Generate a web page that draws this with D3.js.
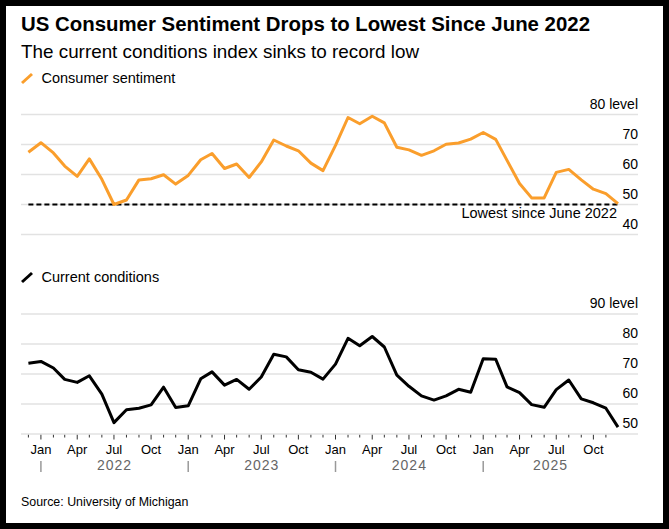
<!DOCTYPE html>
<html>
<head>
<meta charset="utf-8">
<script src="https://cdn.jsdelivr.net/npm/d3@7"></script>
<style>
  html, body { margin: 0; padding: 0; background: #000; }
  svg { display: block; font-family: "Liberation Sans", Arial, Helvetica, sans-serif; }
</style>
</head>
<body>
<svg id="chart" width="669" height="529"></svg>
<script>
// ---- Data (monthly, Nov 2021 .. Nov 2025) ----
const firstMonth = "2021-11";
const sentiment = [
  67.4, 70.6,
  67.2, 62.8, 59.4, 65.2, 58.4, 50.0, 51.5, 58.2, 58.6, 59.9, 56.8, 59.7,
  64.9, 67.0, 62.0, 63.5, 59.0, 64.2, 71.5, 69.5, 67.9, 63.8, 61.3, 69.7,
  79.0, 76.9, 79.4, 77.2, 69.1, 68.2, 66.4, 67.9, 70.1, 70.5, 71.8, 74.0,
  71.7, 64.7, 57.0, 52.2, 52.2, 60.7, 61.7, 58.2, 55.1, 53.6, 50.3
];
const currentConditions = [
  73.6, 74.2,
  72.0, 68.2, 67.2, 69.4, 63.3, 53.8, 58.1, 58.6, 59.7, 65.6, 58.8, 59.4,
  68.4, 70.7, 66.3, 68.2, 64.9, 69.0, 76.6, 75.7, 71.4, 70.6, 68.3, 73.3,
  81.9, 79.4, 82.5, 79.0, 69.6, 65.9, 62.7, 61.3, 62.7, 64.9, 63.9, 75.1,
  74.9, 65.7, 63.8, 59.8, 58.9, 64.8, 68.0, 61.7, 60.4, 58.6, 52.3
];
const sentimentTicks = [40, 50, 60, 70, 80];
const conditionsTicks = [50, 60, 70, 80, 90];
const lowestLevel = 50.0;
const monthLabels = { 0: "Jan", 3: "Apr", 6: "Jul", 9: "Oct" };
const years = [2022, 2023, 2024, 2025];
const titleText = "US Consumer Sentiment Drops to Lowest Since June 2022";
const subtitleText = "The current conditions index sinks to record low";
const sourceText = "Source: University of Michigan";
const annotationText = "Lowest since June 2022";

(function () {
// ---- Setup ----
const svg = d3.select("#chart");
svg.append("rect").attr("x", 6).attr("y", 6).attr("width", 657).attr("height", 517).attr("fill", "#fff");

const ORANGE = "#FA9E2C";
const GRID = "#e2e2e2";
const parse = d3.timeParse("%Y-%m");
const start = parse(firstMonth);
// monthly values are plotted at the end of the month (= start of next month)
const dates = sentiment.map((_, i) => d3.timeMonth.offset(start, i + 1));
const x0 = dates[0], x1 = dates[dates.length - 1];
const x = d3.scaleTime().domain([x0, x1]).range([28.4, 618]);
const gridL = 21, gridR = 638;

svg.append("text").attr("x", 21).attr("y", 31).attr("font-size", 19.5).attr("font-weight", "bold")
  .attr("textLength", 569).attr("lengthAdjust", "spacingAndGlyphs").attr("fill", "#000").text(titleText);
svg.append("text").attr("x", 21).attr("y", 58).attr("font-size", 18.5)
  .attr("textLength", 398).attr("lengthAdjust", "spacingAndGlyphs").attr("fill", "#000").text(subtitleText);

function panel(opts) {
  const { ticks, topY, bottomY, color, legend, legendY, unitLabel } = opts;
  const y = d3.scaleLinear().domain([ticks[0], ticks[ticks.length - 1]]).range([bottomY, topY]);
  const g = svg.append("g");
  g.append("line").attr("x1", 22).attr("y1", legendY + 1).attr("x2", 32).attr("y2", legendY - 8)
    .attr("stroke", color).attr("stroke-width", 3).attr("stroke-linecap", "butt");
  g.append("text").attr("x", 41.5).attr("y", legendY + 1).attr("font-size", 14.5).attr("fill", "#000").text(legend);
  g.selectAll("line.grid").data(ticks).join("line").attr("class", "grid")
    .attr("x1", gridL).attr("x2", gridR).attr("y1", d => y(d)).attr("y2", d => y(d))
    .attr("stroke", GRID).attr("stroke-width", 1.6);
  g.selectAll("text.ylab").data(ticks).join("text").attr("class", "ylab")
    .attr("x", gridR).attr("y", d => y(d) - 6).attr("text-anchor", "end")
    .attr("font-size", 14).attr("fill", "#000")
    .text((d, i) => i === ticks.length - 1 ? d + " " + unitLabel : d);
  return { g, y };
}

// ---- Top panel: consumer sentiment ----
const p1 = panel({ ticks: sentimentTicks, topY: 114.5, bottomY: 234.5, color: ORANGE,
  legend: "Consumer sentiment", legendY: 82, unitLabel: "level" });
p1.g.append("line").attr("x1", x(x0)).attr("x2", x(x1))
  .attr("y1", p1.y(lowestLevel)).attr("y2", p1.y(lowestLevel))
  .attr("stroke", "#000").attr("stroke-width", 2).attr("stroke-dasharray", "5,3");
p1.g.append("text").attr("x", 617).attr("y", 218).attr("text-anchor", "end")
  .attr("font-size", 14.5).attr("fill", "#000").text(annotationText);
p1.g.append("path").datum(sentiment)
  .attr("d", d3.line().x((d, i) => x(dates[i])).y(d => p1.y(d)))
  .attr("fill", "none").attr("stroke", ORANGE).attr("stroke-width", 3).attr("stroke-linejoin", "round");

// ---- Bottom panel: current conditions ----
const p2 = panel({ ticks: conditionsTicks, topY: 314, bottomY: 434, color: "#000",
  legend: "Current conditions", legendY: 281, unitLabel: "level" });
p2.g.append("path").datum(currentConditions)
  .attr("d", d3.line().x((d, i) => x(dates[i])).y(d => p2.y(d)))
  .attr("fill", "none").attr("stroke", "#000").attr("stroke-width", 3).attr("stroke-linejoin", "round");

// ---- X axis ----
const axisY = 434;
const tickMonths = d3.timeMonth.range(x0, x1);
const ax = svg.append("g");
ax.selectAll("line.tick").data(tickMonths).join("line").attr("class", "tick")
  .attr("x1", d => x(d)).attr("x2", d => x(d))
  .attr("y1", axisY + 0.8).attr("y2", d => axisY + (d.getMonth() % 3 === 0 ? 5.5 : 3.5))
  .attr("stroke", "#333").attr("stroke-width", 1);
ax.selectAll("text.mon").data(tickMonths.filter(d => d.getMonth() % 3 === 0)).join("text").attr("class", "mon")
  .attr("x", d => x(d)).attr("y", 454).attr("text-anchor", "middle")
  .attr("font-size", 13).attr("fill", "#000").text(d => monthLabels[d.getMonth()]);
ax.selectAll("line.ysep").data(years).join("line").attr("class", "ysep")
  .attr("x1", d => x(new Date(d, 0, 1))).attr("x2", d => x(new Date(d, 0, 1)))
  .attr("y1", 461).attr("y2", 472).attr("stroke", "#999").attr("stroke-width", 1.5);
ax.selectAll("text.year").data(years).join("text").attr("class", "year")
  .attr("x", d => {
    const a = Math.max(+new Date(d, 0, 1), +x0), b = Math.min(+new Date(d + 1, 0, 1), +x1);
    return (x(a) + x(b)) / 2;
  })
  .attr("y", 470).attr("text-anchor", "middle").attr("font-size", 14).attr("letter-spacing", 1)
  .attr("fill", "#666").text(d => d);

svg.append("text").attr("x", 21).attr("y", 506).attr("font-size", 12.4).attr("fill", "#000").text(sourceText);
})();
</script>
</body>
</html>
